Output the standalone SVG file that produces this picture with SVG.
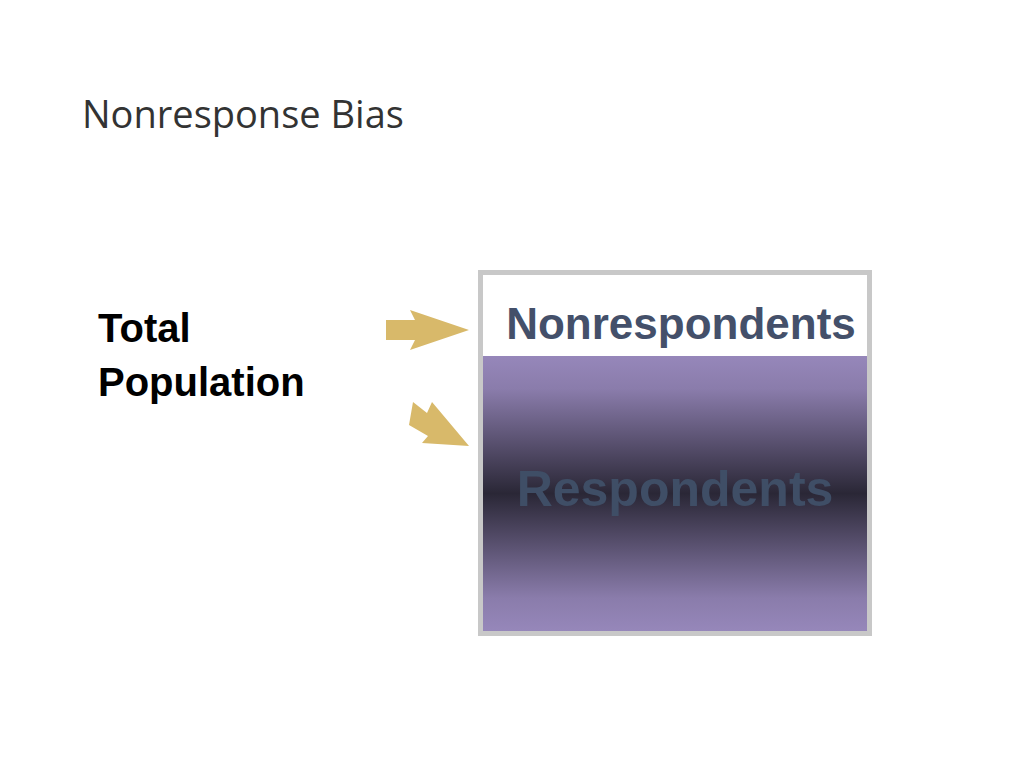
<svg xmlns="http://www.w3.org/2000/svg" width="1024" height="768" viewBox="0 0 1024 768">
<defs>
<linearGradient id="g" x1="0" y1="0" x2="0" y2="1">
<stop offset="0" stop-color="#9687ba"/>
<stop offset="0.12" stop-color="#8a7cab"/>
<stop offset="0.5" stop-color="#2a2736"/>
<stop offset="0.88" stop-color="#8a7cab"/>
<stop offset="1" stop-color="#9687ba"/>
</linearGradient>
<style>.a{fill:#d8b96a}</style>
</defs>
<rect width="1024" height="768" fill="#fff"/>
<text x="82" y="128" font-family="'Open Sans','Liberation Sans',sans-serif" font-size="38" fill="#333">Nonresponse Bias</text>
<g id="total"><text font-family="'Liberation Sans',Arial,sans-serif" font-size="40" font-weight="bold" fill="#000"><tspan x="98" y="342">Total</tspan><tspan x="98" y="396">Population</tspan></text></g>
<g id="connectors">
<polygon class="a" points="386,320 415,320 410,310 469,330 410,350 415,340 386,340"/>
<polygon class="a" points="413,402 427,413 432,402 469,446 422,443 428,436 409,425"/>
</g>
<g id="box">
<rect x="480.5" y="272.5" width="389" height="361" fill="#fff" stroke="#c8c8c8" stroke-width="5"/>
<rect x="483" y="356" width="384" height="275" fill="url(#g)"/>
<text x="681" y="339" text-anchor="middle" font-family="'Liberation Sans',Arial,sans-serif" font-size="44" font-weight="bold" fill="#44506a">Nonrespondents</text>
<text x="675" y="506" text-anchor="middle" font-family="'Liberation Sans',Arial,sans-serif" font-size="50" font-weight="bold" fill="#3f4e66">Respondents</text>
</g>
</svg>
